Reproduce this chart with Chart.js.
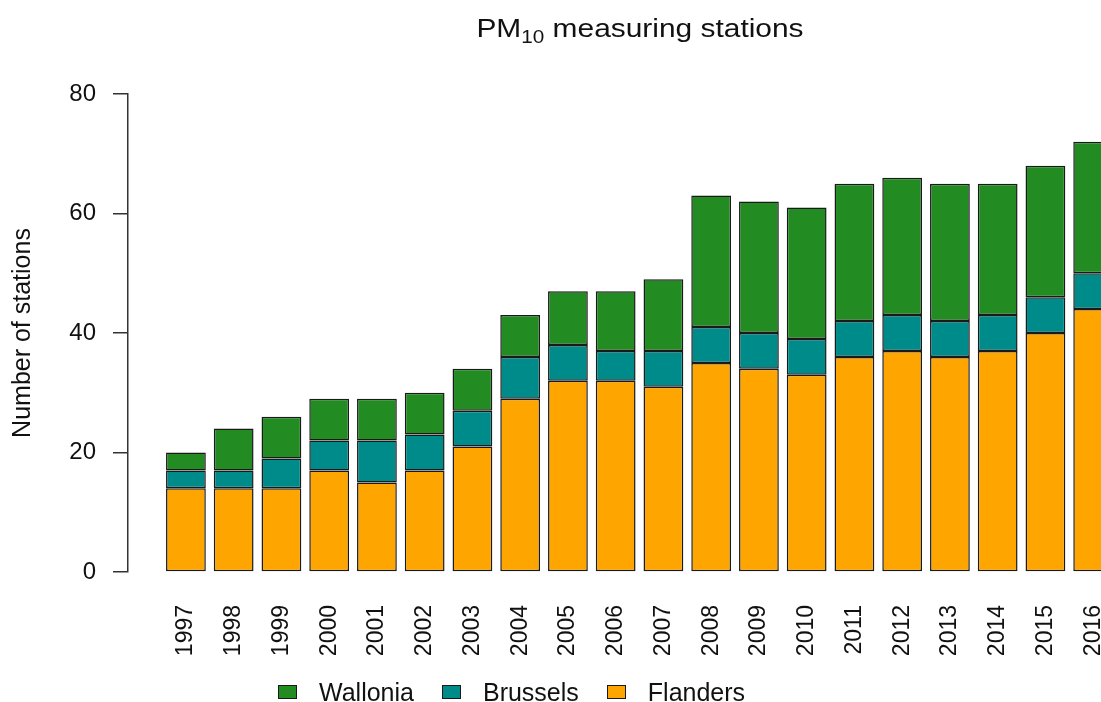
<!DOCTYPE html>
<html>
<head>
<meta charset="utf-8">
<title>PM10 measuring stations</title>
<script src="https://cdn.jsdelivr.net/npm/chart.js@4.4.1/dist/chart.umd.min.js"></script>
<style>
  body { margin: 0; background: #fff; font-family: "Liberation Sans", Arial, sans-serif; color: #111; }
  #wrap { position: relative; width: 1101px; height: 702px; overflow: hidden; }
  #title {
    position: absolute; left: 639.5px; top: 13px; white-space: nowrap;
    font-size: 26px; line-height: 30px;
    transform: translateX(-50%) scaleX(1.15);
  }
  #title sub { font-size: 18px; vertical-align: baseline; position: relative; top: 6px; }
  #legend { position: absolute; left: 278px; top: 677px; display: flex; align-items: center; height: 30px; }
  .item { display: flex; align-items: center; margin-right: 28px; font-size: 25px; }
  .box { width: 19px; height: 14px; box-sizing: border-box; border: 1.5px solid #1a1a1a; margin-right: 22px; }
</style>
</head>
<body>
<div id="wrap">
  <canvas id="chart" width="1101" height="702"></canvas>
  <div id="title">PM<sub>10</sub> measuring stations</div>
  <div id="legend"></div>
</div>
<script>
// station counts per region
const YEARS    = [1997, 1998, 1999, 2000, 2001, 2002, 2003, 2004, 2005, 2006, 2007, 2008, 2009, 2010, 2011, 2012, 2013, 2014, 2015, 2016];
const FLANDERS = [14, 14, 14, 17, 15, 17, 21, 29, 32, 32, 31, 35, 34, 33, 36, 37, 36, 37, 40, 44];
const BRUSSELS = [3, 3, 5, 5, 7, 6, 6, 7, 6, 5, 6, 6, 6, 6, 6, 6, 6, 6, 6, 6];
const WALLONIA = [3, 7, 7, 7, 7, 7, 7, 7, 9, 10, 12, 22, 22, 22, 23, 23, 23, 22, 22, 22];
const Y_TICKS  = [0, 20, 40, 60, 80];

const COLORS = {
  flanders: "#FFA500",
  brussels: "#008B8B",
  wallonia: "#228B22",
  edge: "#1a1a1a",
};

Chart.defaults.font.family = '"Liberation Sans", Arial, sans-serif';

const pts = (vals) => YEARS.map((y, i) => ({ x: y, y: vals[i] }));

const chart = new Chart(document.getElementById("chart"), {
  type: "bar",
  data: {
    datasets: [
      { label: "Flanders", data: pts(FLANDERS), backgroundColor: COLORS.flanders },
      { label: "Brussels", data: pts(BRUSSELS), backgroundColor: COLORS.brussels },
      { label: "Wallonia", data: pts(WALLONIA), backgroundColor: COLORS.wallonia },
    ],
  },
  options: {
    responsive: false,
    animation: false,
    devicePixelRatio: 1,
    layout: { padding: { top: 94, left: 0, right: 0, bottom: 0 } },
    datasets: {
      bar: { barPercentage: 0.833, categoryPercentage: 1, borderColor: COLORS.edge, borderWidth: 1.5, borderSkipped: false },
    },
    plugins: { legend: { display: false }, tooltip: { enabled: false } },
    scales: {
      x: {
        type: "linear",
        stacked: true,
        offset: false, // bar charts add half a slot on each side by default; the range below already holds the R gap
        min: 1995.787,
        max: 2016.164,
        // invisible tick marks just push the year labels down (R leaves no marks here)
        grid: { display: true, offset: false, drawOnChartArea: false, drawTicks: true, tickLength: 33, color: "rgba(0,0,0,0)" },
        border: { display: false },
        afterBuildTicks: (s) => { s.ticks = YEARS.map((v) => ({ value: v })); },
        afterFit: (s) => { s.height = 130; s.paddingLeft = 0; s.paddingRight = 0; },
        ticks: {
          autoSkip: false, minRotation: 90, maxRotation: 90, padding: 0,
          color: "#111", font: { size: 23 },
          callback: (v) => String(v),
        },
      },
      y: {
        stacked: true,
        min: 0,
        max: 80,
        afterBuildTicks: (s) => { s.ticks = Y_TICKS.map((v) => ({ value: v })); },
        afterFit: (s) => { s.width = 128; },
        ticks: { padding: 17, color: "#111", font: { size: 24 } },
        grid: { drawOnChartArea: false, drawTicks: true, tickLength: 15, color: "#333", lineWidth: 1.5 },
        border: { display: true, color: "#333", width: 1.5 },
        title: { display: true, text: "Number of stations", color: "#111", font: { size: 25 }, padding: { top: 8, bottom: 0 } },
      },
    },
  },
});

// legend in R order (top segment first)
const legend = document.getElementById("legend");
for (const ds of chart.data.datasets.slice().reverse()) {
  const item = document.createElement("div");
  item.className = "item";
  const box = document.createElement("span");
  box.className = "box";
  box.style.background = ds.backgroundColor;
  item.appendChild(box);
  item.appendChild(document.createTextNode(ds.label));
  legend.appendChild(item);
}
</script>
</body>
</html>
